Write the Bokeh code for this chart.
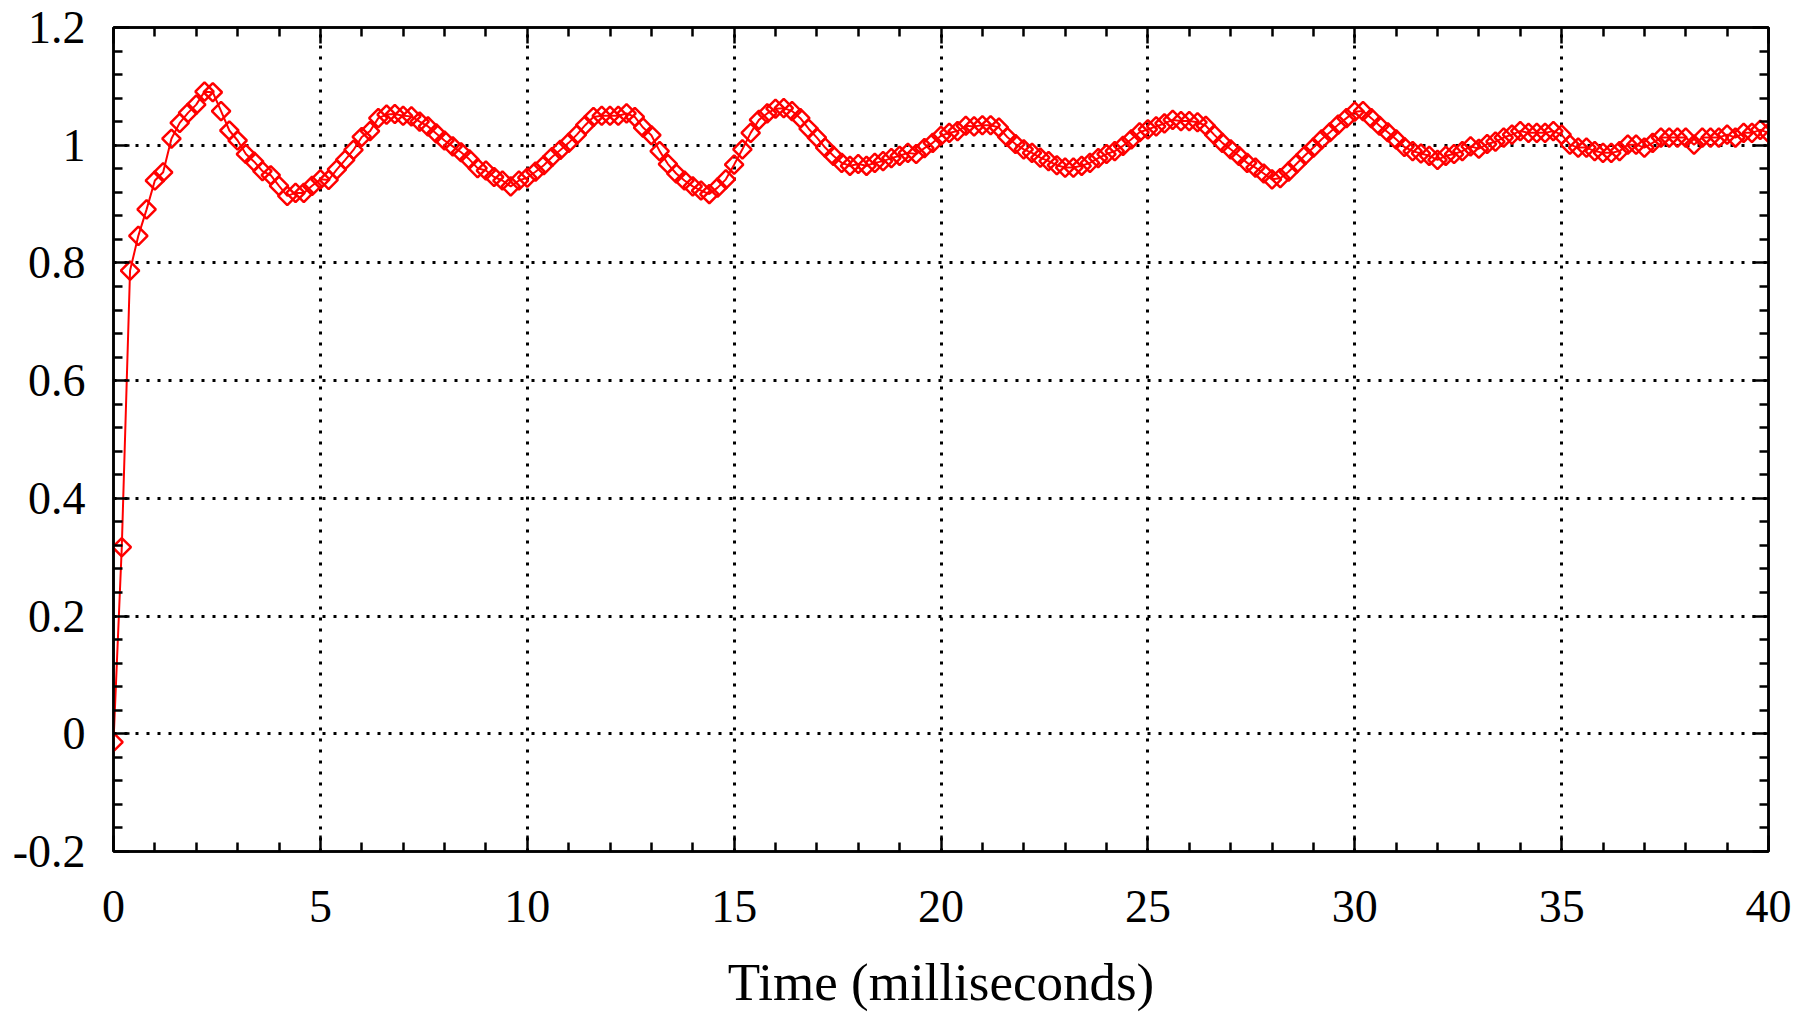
import math
from bokeh.plotting import figure
from bokeh.models import Range1d, FixedTicker, LinearAxis, CustomJSTickFormatter
from bokeh.embed import file_html
from bokeh.resources import INLINE

# ---- data ----
SAMPLE_STEP_MS = 0.2
response = [
    -0.014, 0.317, 0.787, 0.846, 0.891,   # 0 ms
    0.940, 0.954, 1.011, 1.038, 1.055,    # 1
    1.069, 1.091, 1.090, 1.058, 1.025,    # 2
    1.008, 0.985, 0.972, 0.956, 0.949,    # 3
    0.931, 0.914, 0.919, 0.919, 0.931,    # 4
    0.942, 0.941, 0.959, 0.975, 0.992,    # 5
    1.014, 1.024, 1.046, 1.052, 1.053,    # 6
    1.050, 1.049, 1.040, 1.032, 1.020,    # 7
    1.008, 0.998, 0.988, 0.976, 0.961,    # 8
    0.957, 0.946, 0.940, 0.930, 0.940,    # 9
    0.945, 0.955, 0.966, 0.980, 0.992,    # 10
    1.004, 1.018, 1.034, 1.048, 1.050,    # 11
    1.050, 1.050, 1.054, 1.048, 1.030,    # 12
    1.017, 0.990, 0.968, 0.952, 0.940,    # 13
    0.930, 0.923, 0.917, 0.928, 0.942,    # 14
    0.967, 0.993, 1.021, 1.043, 1.054,    # 15
    1.062, 1.063, 1.058, 1.046, 1.028,    # 16
    1.013, 0.996, 0.982, 0.970, 0.965,    # 17
    0.968, 0.965, 0.970, 0.973, 0.978,    # 18
    0.982, 0.987, 0.985, 0.995, 1.004,    # 19
    1.016, 1.021, 1.024, 1.033, 1.032,    # 20
    1.034, 1.034, 1.030, 1.014, 1.002,    # 21
    0.993, 0.987, 0.979, 0.973, 0.966,    # 22
    0.962, 0.962, 0.965, 0.970, 0.978,    # 23
    0.985, 0.990, 0.999, 1.010, 1.022,    # 24
    1.027, 1.032, 1.037, 1.043, 1.041,    # 25
    1.041, 1.039, 1.033, 1.018, 1.004,    # 26
    0.993, 0.982, 0.970, 0.962, 0.952,    # 27
    0.942, 0.944, 0.955, 0.969, 0.983,    # 28
    0.996, 1.010, 1.022, 1.035, 1.046,    # 29
    1.057, 1.058, 1.046, 1.033, 1.022,    # 30
    1.010, 0.997, 0.990, 0.986, 0.982,    # 31
    0.975, 0.982, 0.985, 0.990, 0.998,    # 32
    0.994, 1.002, 1.006, 1.013, 1.018,    # 33
    1.024, 1.021, 1.021, 1.021, 1.024,    # 34
    1.018, 1.001, 0.996, 0.996, 0.990,    # 35
    0.987, 0.987, 0.990, 1.001, 1.001,    # 36
    0.996, 1.004, 1.013, 1.013, 1.013,    # 37
    1.013, 1.001, 1.013, 1.013, 1.013,    # 38
    1.018, 1.013, 1.021, 1.021, 1.026,    # 39
    1.021,                                # 40
]
time_ms = [round(i * SAMPLE_STEP_MS, 1) for i in range(len(response))]

x_label = "Time (milliseconds)"
x_ticks = [0, 5, 10, 15, 20, 25, 30, 35, 40]
y_ticks = [-0.2, 0, 0.2, 0.4, 0.6, 0.8, 1, 1.2]
x_tick_labels = {t: str(t) for t in x_ticks}
y_tick_labels = {-0.2: "-0.2", 0: "0", 0.2: "0.2", 0.4: "0.4", 0.6: "0.6",
                 0.8: "0.8", 1: "1", 1.2: "1.2"}
MINOR_PER_MAJOR = 5

def minor_between(ticks):
    out = []
    for a, b in zip(ticks[:-1], ticks[1:]):
        step = (b - a) / MINOR_PER_MAJOR
        out += [round(a + k * step, 4) for k in range(1, MINOR_PER_MAJOR)]
    return out

x_minor = minor_between(x_ticks)
y_minor = minor_between(y_ticks)

# ---- figure ----
p = figure(
    width=1809, height=1013,
    x_range=Range1d(x_ticks[0], x_ticks[-1]), y_range=Range1d(y_ticks[0], y_ticks[-1]),
    output_backend="svg", toolbar_location=None, title=None,
    min_border_left=113, min_border_right=41, min_border_top=27, min_border_bottom=157,
)
p.background_fill_color = "white"
p.border_fill_color = "white"
p.outline_line_color = "black"
p.outline_line_width = 2.5

blank_fmt = CustomJSTickFormatter(code="return '';")

LABEL_FONT = "Liberation Serif"
TICK_SIZE = "46px"

def style_axis(ax, labels=True):
    ax.axis_line_color = "black"
    ax.axis_line_width = 2.5
    ax.major_tick_line_color = "black"
    ax.major_tick_line_width = 2.5
    ax.minor_tick_line_color = "black"
    ax.minor_tick_line_width = 2.5
    ax.major_tick_in = 16
    ax.major_tick_out = 0
    ax.minor_tick_in = 9
    ax.minor_tick_out = 0
    if labels:
        ax.major_label_text_font = LABEL_FONT
        ax.major_label_text_font_size = TICK_SIZE
        ax.major_label_text_color = "black"
    else:
        ax.major_label_text_font_size = "1px"
        ax.major_label_standoff = 0

xticker = FixedTicker(ticks=x_ticks, minor_ticks=x_minor)
yticker = FixedTicker(ticks=y_ticks, minor_ticks=y_minor)

xax = p.xaxis[0]
xax.ticker = xticker
xax.major_label_overrides = x_tick_labels
style_axis(xax)
xax.major_label_standoff = 39
xax.axis_label = x_label
xax.axis_label_text_font = LABEL_FONT
xax.axis_label_text_font_size = "53px"
xax.axis_label_text_font_style = "normal"
xax.axis_label_text_color = "black"
xax.axis_label_standoff = 28

yax = p.yaxis[0]
yax.ticker = yticker
yax.major_label_overrides = y_tick_labels
style_axis(yax)
yax.major_label_standoff = 28

top_ax = LinearAxis(ticker=FixedTicker(ticks=x_ticks, minor_ticks=x_minor), formatter=blank_fmt)
style_axis(top_ax, labels=False)
p.add_layout(top_ax, "above")
right_ax = LinearAxis(ticker=FixedTicker(ticks=y_ticks, minor_ticks=y_minor), formatter=blank_fmt)
style_axis(right_ax, labels=False)
p.add_layout(right_ax, "right")

for g in (p.xgrid[0], p.ygrid[0]):
    g.grid_line_color = "black"
    g.grid_line_width = 3
    g.grid_line_dash = "3 8"
p.xgrid[0].ticker = xticker
p.ygrid[0].ticker = yticker

p.line(time_ms, response, line_color="#ff0000", line_width=2)
p.scatter(time_ms, response, marker="square", size=13, angle=math.pi / 4,
          line_color="#ff0000", line_width=2.5, fill_color=None)

open("out.html", "w").write(file_html(p, INLINE))
